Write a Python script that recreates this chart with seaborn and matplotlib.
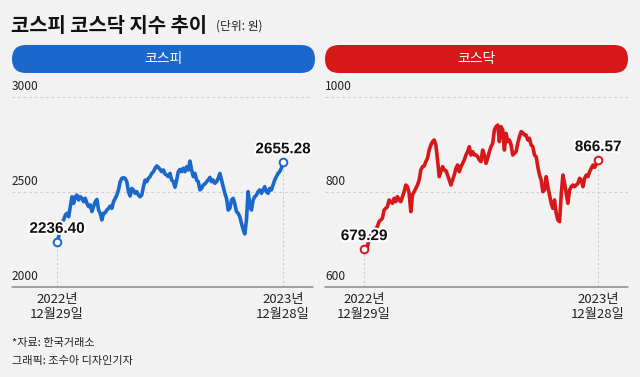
import matplotlib
matplotlib.use("Agg")
import matplotlib.pyplot as plt
import matplotlib.patheffects as pe
from matplotlib.patches import FancyBboxPatch
import pandas as pd
import seaborn as sns

# 코스피 (start 2022-12-29 -> end 2023-12-28)
kospi = [2236.40, 2265, 2318, 2344, 2353, 2379, 2388, 2370, 2423, 2475, 2440, 2475, 2484, 2458,
         2475, 2467, 2449, 2467, 2440, 2423, 2432, 2397, 2423, 2449, 2461, 2405, 2388, 2353,
         2388, 2391, 2405, 2414, 2426, 2414, 2449, 2467, 2484, 2511, 2554, 2572, 2575, 2572,
         2554, 2502, 2479, 2519, 2511, 2493, 2502, 2484, 2475, 2484, 2528, 2563, 2554, 2572,
         2581, 2598, 2607, 2625, 2637, 2630, 2619, 2607, 2616, 2595, 2589, 2581, 2598, 2563,
         2554, 2525, 2563, 2607, 2619, 2607, 2625, 2607, 2633, 2616, 2663, 2616, 2581, 2598,
         2563, 2554, 2511, 2519, 2537, 2542, 2554, 2563, 2577, 2554, 2563, 2546, 2554, 2572,
         2598, 2563, 2528, 2493, 2467, 2405, 2414, 2458, 2467, 2437, 2397, 2388, 2370, 2335,
         2303, 2279, 2353, 2502, 2432, 2405, 2458, 2475, 2484, 2502, 2511, 2493, 2511, 2528,
         2502, 2493, 2519, 2511, 2537, 2563, 2581, 2598, 2607, 2625, 2655.28]

# 코스닥
kosdaq = [679.29, 674.4, 684.9, 698.9, 707.4, 716.5, 713.0, 723.5, 727.0, 737.6, 741.0, 744.6,
          762.1, 765.6, 769.1, 783.2, 779.6, 776.1, 786.7, 779.6, 790.2, 783.2, 779.6, 790.2,
          800.7, 814.7, 811.2, 797.2, 758.6, 793.7, 800.7, 807.7, 814.7, 825.3, 846.3, 853.3,
          854.7, 863.9, 870.9, 888.4, 899.0, 906.0, 909.5, 899.0, 867.4, 832.3, 842.8, 853.3,
          846.3, 844.9, 835.8, 825.3, 814.7, 825.3, 835.8, 849.8, 856.8, 842.8, 853.3, 860.3,
          867.4, 877.9, 884.9, 895.4, 877.9, 884.9, 877.9, 877.9, 874.4, 867.4, 863.9, 888.4,
          877.9, 860.3, 870.9, 884.9, 895.4, 902.5, 930.5, 937.5, 941.0, 906.0, 937.5, 930.5,
          888.4, 923.5, 906.0, 909.5, 899.0, 877.9, 881.4, 884.9, 902.5, 916.5, 927.0, 924.9,
          920.0, 920.0, 909.5, 913.0, 899.0, 895.4, 877.9, 874.4, 853.3, 835.8, 825.3, 800.7,
          804.2, 832.3, 811.2, 793.7, 776.1, 765.6, 783.2, 755.1, 741.0, 737.6, 793.7, 835.8,
          818.2, 797.2, 776.1, 804.2, 811.2, 814.7, 811.2, 814.7, 818.2, 828.8, 825.3, 811.2,
          828.8, 835.8, 832.3, 842.8, 849.8, 856.8, 851.9, 858.9, 866.57]

start_date, end_date = "2022-12-29", "2023-12-28"
date_labels = ["2022년\n12월29일", "2023년\n12월28일"]

BG = "#f2f2f2"
BLUE = "#1b68cc"
RED = "#d71818"

sns.set_theme(style="white")
plt.rcParams["font.family"] = ["Noto Sans CJK KR", "DejaVu Sans"]

W, H = 640, 377
fig = plt.figure(figsize=(6.4, 3.77), dpi=100, facecolor=BG)

# pixel-space overlay for title, pills and notes
bg = fig.add_axes([0, 0, 1, 1], zorder=0)
bg.set_xlim(0, W)
bg.set_ylim(H, 0)
bg.axis("off")
bg.set_facecolor(BG)

bg.text(11, 25, "코스피 코스닥 지수 추이", fontsize=14.3, fontweight="bold", va="center", ha="left", color="#111111")
bg.text(216, 26, "(단위: 원)", fontsize=8.5, va="center", ha="left", color="#222222")
bg.text(12, 343, "*자료: 한국거래소", fontsize=8, va="center", ha="left", color="#222222")
bg.text(12, 361, "그래픽: 조수아 디자인기자", fontsize=8, va="center", ha="left", color="#222222")

for x0, x1, col, name in [(12, 315, BLUE, "코스피"), (325, 628, RED, "코스닥")]:
    bg.add_patch(FancyBboxPatch((x0, 45), x1 - x0, 28,
                                boxstyle="round,pad=0,rounding_size=14",
                                facecolor=col, edgecolor="none"))
    bg.text((x0 + x1) / 2, 59.5, name, fontsize=10, color="white", ha="center", va="center")


def panel(rect, values, color, ylo, yhi, ticks, pad_l, pad_r):
    ax = fig.add_axes(rect, zorder=2)
    ax.patch.set_alpha(0)
    dates = pd.date_range(start_date, end_date, periods=len(values))
    df = pd.DataFrame({"date": dates, "value": values})
    sns.lineplot(data=df, x="date", y="value", ax=ax, color=color, linewidth=2.6, zorder=3)
    d0, d1 = dates[0], dates[-1]
    ax.set_xlim(d0 - pd.Timedelta(days=pad_l), d1 + pd.Timedelta(days=pad_r))
    ax.set_ylim(ylo, yhi)
    for s in ax.spines.values():
        s.set_visible(False)
    ax.axhline(ylo, color="#8a8a8a", lw=1.1, zorder=2, clip_on=False)
    for t in ticks:
        if t != ylo:
            ax.axhline(t, color="#cfcfcf", lw=0.8, ls=(0, (2.5, 2.5)), zorder=1)
        ax.annotate(str(t), xy=(0, t), xycoords=("axes fraction", "data"),
                    xytext=(0, 3), textcoords="offset points",
                    fontsize=8.6, ha="left", va="bottom", color="#222222")
    ax.set_yticks([])
    ax.set_ylabel("")
    ax.set_xlabel("")
    for d, v in [(d0, values[0]), (d1, values[-1])]:
        ax.vlines(d, ylo, v, color="#cccccc", lw=0.8, ls=(0, (2, 2)), zorder=1)
        ax.plot([d], [v], marker="o", markersize=5.5, mfc="white", mec=color, mew=1.4, zorder=5)
        ax.annotate("{:.2f}".format(v), xy=(d, v), xytext=(0, 4.5), textcoords="offset points",
                    ha="center", va="bottom", fontsize=11, fontweight="bold",
                    family=["Liberation Sans", "DejaVu Sans"], color="#111111", zorder=6,
                    path_effects=[pe.withStroke(linewidth=3, foreground="white")])
    ax.set_xticks([d0, d1])
    ax.set_xticklabels(date_labels, fontsize=9.5, linespacing=1.25, color="#222222")
    ax.tick_params(axis="x", length=0, pad=4)
    return ax


panel([12 / W, (H - 287) / H, 301 / W, 207 / H], kospi, BLUE, 2000, 3089.5,
      [2000, 2500, 3000], 72.5, 48.3)
panel([325 / W, (H - 287) / H, 303 / W, 207 / H], kosdaq, RED, 600, 1035.8,
      [600, 800, 1000], 60.7, 46.7)

fig.savefig("out.png", dpi=100, facecolor=BG)
